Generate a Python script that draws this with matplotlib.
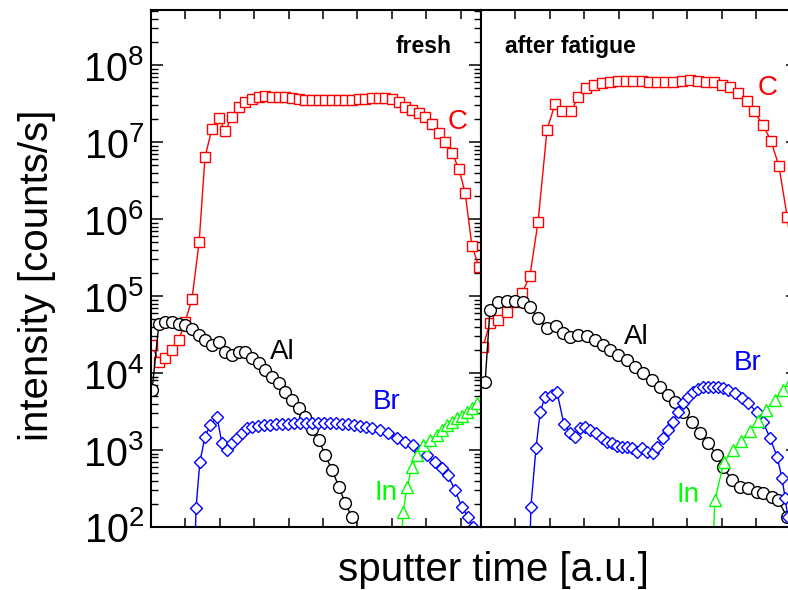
import numpy as np
import matplotlib
matplotlib.use("Agg")
import matplotlib.pyplot as plt
from matplotlib.ticker import LogLocator, NullFormatter, MultipleLocator, LogFormatterSciNotation, FixedLocator

plt.rcParams['font.family'] = ['Liberation Sans', 'DejaVu Sans']
plt.rcParams['mathtext.fontset'] = 'custom'
plt.rcParams['mathtext.rm'] = 'Liberation Sans'
plt.rcParams['mathtext.default'] = 'regular'

# ---- fresh sample ----
fresh_C_t = [0.03, 0.23, 0.41, 0.61, 0.81, 0.99, 1.19, 1.40, 1.57, 1.77, 1.98, 2.15, 2.35, 2.56, 2.73, 2.94,
             3.14, 3.31, 3.52, 3.72, 3.90, 4.10, 4.30, 4.48, 4.68, 4.88, 5.06, 5.26, 5.47, 5.64, 5.84, 6.05,
             6.22, 6.42, 6.63, 6.80, 7.01, 7.21, 7.38, 7.59, 7.79, 7.97, 8.17, 8.37, 8.55, 8.75, 8.95, 9.13,
             9.33, 9.53]
fresh_C = [2.3e4, 1.4e4, 1.57e4, 2.0e4, 2.7e4, 4.6e4, 9.1e4, 5.1e5, 6.4e6, 1.48e7, 2.05e7, 1.39e7, 2.1e7,
           2.9e7, 3.3e7, 3.6e7, 3.9e7, 3.95e7, 3.9e7, 3.85e7, 3.8e7, 3.75e7, 3.6e7, 3.5e7, 3.5e7, 3.5e7,
           3.5e7, 3.5e7, 3.5e7, 3.5e7, 3.55e7, 3.6e7, 3.65e7, 3.7e7, 3.7e7, 3.7e7, 3.6e7, 3.3e7, 2.9e7,
           2.6e7, 2.4e7, 2.1e7, 1.7e7, 1.3e7, 1.0e7, 7.2e6, 4.5e6, 2.2e6, 4.5e5, 2.4e5]

fresh_Al_t = [0.03, 0.23, 0.41, 0.61, 0.81, 0.99, 1.19, 1.40, 1.57, 1.77, 1.98, 2.15, 2.35, 2.56, 2.73, 2.94,
              3.14, 3.31, 3.52, 3.72, 3.90, 4.10, 4.30, 4.48, 4.68, 4.88, 5.06, 5.26, 5.47, 5.64, 5.84]
fresh_Al = [6.0e3, 4.4e4, 4.6e4, 4.6e4, 4.4e4, 4.2e4, 3.7e4, 3.1e4, 2.7e4, 2.3e4, 2.5e4, 1.9e4, 1.7e4,
            1.9e4, 1.85e4, 1.56e4, 1.35e4, 1.1e4, 8.9e3, 7.4e3, 5.6e3, 4.4e3, 3.5e3, 2.7e3, 1.9e3, 1.35e3,
            870, 550, 330, 205, 135]

fresh_Br_t = [1.25, 1.31, 1.42, 1.57, 1.72, 1.92, 2.06, 2.21, 2.35, 2.50, 2.65, 2.79, 2.94, 3.11, 3.28, 3.46,
              3.63, 3.81, 3.98, 4.16, 4.33, 4.51, 4.68, 4.85, 5.03, 5.20, 5.38, 5.55, 5.73, 5.90, 6.08, 6.25,
              6.42, 6.66, 6.89, 7.15, 7.38, 7.62, 7.82, 8.02, 8.26, 8.46, 8.63, 8.84, 9.04, 9.22, 9.36, 9.56]
fresh_Br = [20, 177, 700, 1480, 2100, 2700, 1230, 1000, 1230, 1440, 1660, 1940, 2000, 2050, 2100, 2100,
            2170, 2170, 2170, 2240, 2240, 2240, 2240, 2240, 2240, 2240, 2240, 2170, 2170, 2100, 2050, 2000,
            1940, 1800, 1660, 1440, 1270, 1170, 940, 860, 700, 580, 470, 300, 180, 135, 100, 60]

fresh_In_t = [7.24, 7.33, 7.44, 7.59, 7.73, 7.91, 8.11, 8.31, 8.46, 8.60, 8.75, 8.90, 9.04, 9.19, 9.33, 9.48]
fresh_In = [30, 156, 330, 600, 860, 1150, 1350, 1560, 1800, 2100, 2300, 2600, 2800, 3100, 3500, 4100]

# ---- after fatigue ----
fat_C_t = [0.06, 0.26, 0.49, 0.76, 0.99, 1.19, 1.42, 1.66, 1.92, 2.15, 2.35, 2.62, 2.82, 3.05, 3.28, 3.52,
           3.75, 3.98, 4.22, 4.42, 4.68, 4.88, 5.12, 5.35, 5.58, 5.84, 6.08, 6.31, 6.54, 6.77, 7.01, 7.24,
           7.47, 7.73, 7.94, 8.20, 8.43, 8.66, 8.90, 9.13]
fat_C = [2.2e4, 4.5e4, 4.9e4, 6.2e4, 8.3e4, 1.1e5, 1.8e5, 9.3e5, 1.45e7, 3.1e7, 2.5e7, 2.5e7, 3.8e7, 5.0e7,
         5.5e7, 5.9e7, 6.0e7, 6.3e7, 6.3e7, 6.3e7, 6.3e7, 6.1e7, 6.1e7, 6.1e7, 6.1e7, 6.3e7, 6.4e7, 6.3e7,
         6.1e7, 6.0e7, 5.5e7, 5.2e7, 4.3e7, 3.4e7, 2.5e7, 1.67e7, 1.03e7, 4.9e6, 1.08e6, 1.6e5]

fat_Al_t = [0.12, 0.26, 0.49, 0.76, 0.99, 1.22, 1.42, 1.66, 1.92, 2.18, 2.38, 2.59, 2.82, 3.08, 3.31, 3.55,
            3.75, 3.98, 4.24, 4.48, 4.71, 4.97, 5.20, 5.44, 5.64, 5.87, 6.13, 6.37, 6.60, 6.86, 7.03, 7.30,
            7.53, 7.76, 8.02, 8.20, 8.46, 8.63, 8.90, 9.13]
fat_Al = [7.6e3, 6.6e4, 8.3e4, 8.6e4, 8.6e4, 8.3e4, 7.2e4, 5.2e4, 3.8e4, 4.1e4, 3.3e4, 2.9e4, 3.1e4, 3.0e4,
          2.7e4, 2.3e4, 2.0e4, 1.7e4, 1.47e4, 1.2e4, 1.0e4, 8.1e3, 6.6e3, 5.2e3, 4.2e3, 3.1e3, 2.3e3, 1.66e3,
          1.23e3, 860, 600, 410, 330, 320, 285, 275, 245, 225, 135, 80]

fat_Br_t = [1.40, 1.45, 1.60, 1.72, 1.86, 2.06, 2.21, 2.41, 2.59, 2.73, 2.88, 3.02, 3.17, 3.34, 3.52, 3.66,
            3.81, 3.95, 4.10, 4.24, 4.39, 4.53, 4.68, 4.83, 5.00, 5.12, 5.29, 5.44, 5.58, 5.73, 5.87, 6.02,
            6.16, 6.31, 6.45, 6.60, 6.74, 6.89, 7.03, 7.18, 7.38, 7.59, 7.76, 8.02, 8.20, 8.40, 8.61, 8.75,
            8.84, 8.92, 9.04]
fat_Br = [20, 182, 1070, 3100, 4900, 5200, 5600, 2200, 1660, 1480, 1940, 2000, 1800, 1660, 1440, 1270,
          1230, 1120, 1090, 1090, 1070, 940, 1070, 940, 910, 1090, 1440, 1800, 2300, 3100, 4100, 4900,
          5600, 6200, 6600, 6600, 6600, 6600, 6400, 6000, 5500, 4700, 4100, 3100, 2300, 1440, 810, 430,
          240, 135, 60]

fat_In_t = [6.72, 6.80, 7.06, 7.33, 7.56, 7.82, 8.05, 8.28, 8.55, 8.78, 9.01]
fat_In = [30, 224, 700, 1000, 1300, 1770, 2400, 3300, 4500, 6000, 8100]

# decade ticks shown on the intensity axis
decades = [1e2, 1e3, 1e4, 1e5, 1e6, 1e7, 1e8]

# element labels: (text, colour, t, intensity)
fresh_labels = [("C", "#ff0000", 8.92, 1.82e7), ("Al", "black", 3.81, 1.86e4),
                ("Br", "#0000ff", 6.86, 4.2e3), ("In", "#00ff00", 6.83, 277)]
fat_labels = [("C", "#ff0000", 8.34, 5.0e7), ("Al", "black", 4.51, 2.95e4),
              ("Br", "#0000ff", 7.76, 1.35e4), ("In", "#00ff00", 6.02, 260)]

fig = plt.figure(figsize=(7.88, 5.90), dpi=100)
ax1 = fig.add_axes([151/788, 63/590, 330/788, 517/590])
ax2 = fig.add_axes([481/788, 63/590, 317/788, 517/590], sharey=ax1)


def draw(ax, series, labels):
    for t, v, col, mk, ms in series:
        ax.plot(t, v, color=col, lw=1.0, marker=mk, ms=ms, mfc='white', mec=col, mew=1.0)
    for txt, col, tx, ty in labels:
        ax.text(tx, ty, txt, color=col, fontsize=20, ha='center', va='center')
    ax.set_yscale('log')
    ax.set_ylim(1e2, 5.2e8)
    ax.xaxis.set_major_locator(MultipleLocator(1))
    ax.yaxis.set_major_locator(FixedLocator(decades))
    ax.yaxis.set_minor_locator(LogLocator(base=10, subs=np.arange(2, 10), numticks=20))
    ax.yaxis.set_minor_formatter(NullFormatter())
    for s in ax.spines.values():
        s.set_linewidth(1.5)
    ax.tick_params(axis='x', which='both', direction='in', top=True, bottom=True,
                   length=6.5, width=1.1, labelbottom=False)
    ax.tick_params(axis='y', which='major', direction='in', length=8.5, width=1.1)
    ax.tick_params(axis='y', which='minor', direction='in', length=5, width=1.0)


draw(ax1, [(fresh_C_t, fresh_C, '#ff0000', 's', 7.5),
           (fresh_Al_t, fresh_Al, 'black', 'o', 8.5),
           (fresh_Br_t, fresh_Br, '#0000ff', 'D', 6.5),
           (fresh_In_t, fresh_In, '#00ff00', '^', 8)], fresh_labels)
draw(ax2, [(fat_C_t, fat_C, '#ff0000', 's', 7.5),
           (fat_Al_t, fat_Al, 'black', 'o', 8.5),
           (fat_Br_t, fat_Br, '#0000ff', 'D', 6.5),
           (fat_In_t, fat_In, '#00ff00', '^', 8)], fat_labels)

ax1.set_xlim(0, 330/34.4)
ax2.set_xlim(0, 317/34.4)
ax1.yaxis.set_major_formatter(LogFormatterSciNotation())
ax1.tick_params(axis='y', which='both', left=True, right=True, labelsize=28.5, pad=5)
ax2.tick_params(axis='y', which='both', left=False, right=True, labelleft=False)

ax1.text(0.912, 0.930, "fresh", transform=ax1.transAxes, ha='right', va='center',
         fontsize=16.5, fontweight='bold')
ax2.text(0.076, 0.930, "after fatigue", transform=ax2.transAxes, ha='left', va='center',
         fontsize=16.5, fontweight='bold')

fig.text(37/788, 1 - 275/590, "intensity [counts/s]", rotation=90, ha='center', va='center', fontsize=29)
fig.text(493/788, 1 - 570/590, "sputter time [a.u.]", ha='center', va='center', fontsize=29)

fig.savefig("out.png", dpi=100)
